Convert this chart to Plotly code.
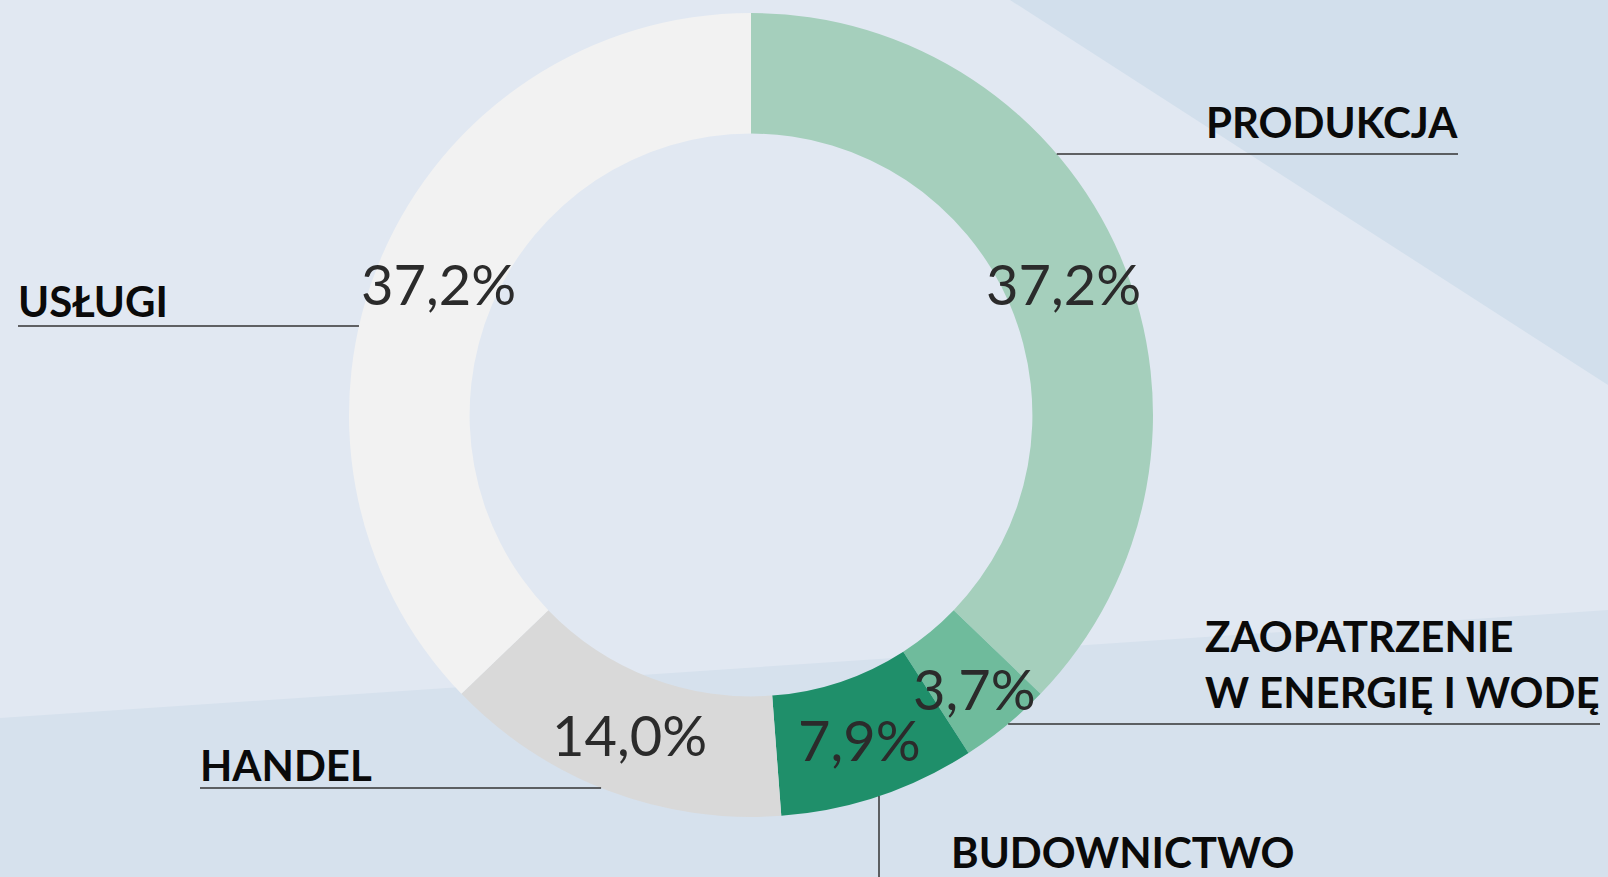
import math
import plotly.graph_objects as go

# ---- data ----
categories = ["PRODUKCJA", "ZAOPATRZENIE W ENERGIĘ I WODĘ", "BUDOWNICTWO", "HANDEL", "USŁUGI"]
shares = [37.2, 3.7, 7.9, 14.0, 37.2]
colors = ["#a5cfbc", "#6fbb9c", "#1f8f6a", "#d9d9d9", "#f2f2f2"]

W, H = 1608, 877
CX, CY, R = 751, 415, 402          # donut centre / outer radius in px
HOLE = 0.70
R_TEXT = 340


def px(x):
    return x / W


def py(y):
    return 1 - y / H


fig = go.Figure()
fig.add_trace(go.Pie(
    values=shares,
    labels=categories,
    marker=dict(colors=colors, line=dict(width=0)),
    hole=HOLE,
    sort=False,
    direction="clockwise",
    rotation=0,
    textinfo="none",
    hoverinfo="skip",
    showlegend=False,
    domain=dict(x=[px(CX - R), px(CX + R)], y=[py(CY + R), py(CY - R)]),
))

annotations = []
# percentage labels at mid-ring, from the data
cum = 0.0
total = sum(shares)
for v in shares:
    mid = (cum + v / 2) / total * 2 * math.pi
    cum += v
    rt = R_TEXT + (12 if v < 5 else 0)
    tx = CX + rt * math.sin(mid)
    ty = CY - rt * math.cos(mid)
    annotations.append(dict(
        x=px(tx), y=py(ty + 2), xref="paper", yref="paper",
        text=f"{v:.1f}".replace(".", ",") + "%",
        showarrow=False, xanchor="center", yanchor="middle",
        font=dict(family="Lato", size=56, color="#2b2b2b"),
    ))

lab_font = dict(family="Lato", size=42, color="#0a0a0a")


def label(text, x, y, anchor):
    annotations.append(dict(x=px(x), y=py(y), xref="paper", yref="paper", text=f"<b>{text}</b>",
                            showarrow=False, xanchor=anchor, yanchor="middle", font=lab_font))


label("PRODUKCJA", 1460, 122, "right")
label("USŁUGI", 16, 301, "left")
label("HANDEL", 198, 765, "left")
label("ZAOPATRZENIE", 1203, 636, "left")
label("W ENERGIĘ I WODĘ", 1203, 692, "left")
label("BUDOWNICTWO", 949, 852, "left")


def edge_x(y, side):
    dy = y - CY
    return CX + side * math.sqrt(R * R - dy * dy)


shapes = [
    # background
    dict(type="path", xref="paper", yref="paper", layer="below", line=dict(width=0),
         fillcolor="#d2dfec",
         path=f"M {px(1010)} {py(0)} L {px(1608)} {py(0)} L {px(1608)} {py(385)} Z"),
    dict(type="path", xref="paper", yref="paper", layer="below", line=dict(width=0),
         fillcolor="#d6e1ed",
         path=f"M {px(0)} {py(718)} L {px(1608)} {py(610)} L {px(1608)} {py(877)} L {px(0)} {py(877)} Z"),
]

line_style = dict(color="#333333", width=1.5)
leaders = [
    (154, 1458, +1),
    (326, 18, -1),
    (788, 200, -1),
    (724, 1600, +1),
]
for y, xe, side in leaders:
    shapes.append(dict(type="line", xref="paper", yref="paper",
                       x0=px(edge_x(y, side)), x1=px(xe), y0=py(y), y1=py(y), line=line_style))
# vertical leader for BUDOWNICTWO
bx = 879
shapes.append(dict(type="line", xref="paper", yref="paper",
                   x0=px(bx), x1=px(bx), y0=py(CY + math.sqrt(R * R - (bx - CX) ** 2)), y1=py(877),
                   line=line_style))

fig.update_layout(
    width=W, height=H,
    margin=dict(l=0, r=0, t=0, b=0),
    paper_bgcolor="#e1e8f2",
    plot_bgcolor="#e1e8f2",
    annotations=annotations,
    shapes=shapes,
)
fig.write_html("out.html", config={"displayModeBar": False},
               post_script="document.body.style.margin='0';document.body.style.overflow='hidden';")
